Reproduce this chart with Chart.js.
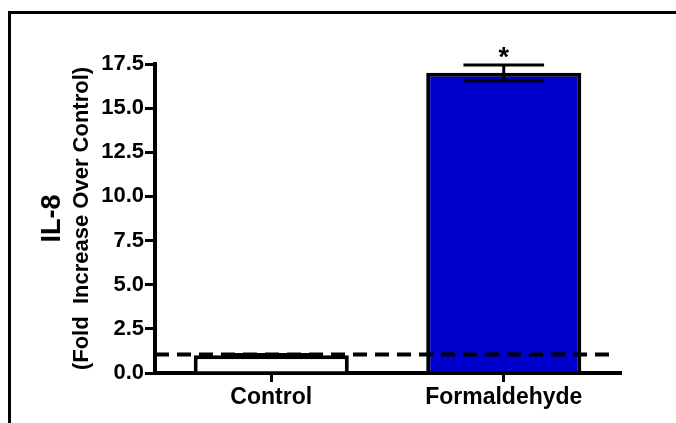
<!DOCTYPE html>
<html>
<head>
<meta charset="utf-8">
<title>IL-8</title>
<script src="https://cdn.jsdelivr.net/npm/chart.js@4/dist/chart.umd.min.js"></script>
<style>
    html, body { margin: 0; padding: 0; background: #fff; overflow: hidden; }
    #wrap { position: relative; width: 676px; height: 423px; }
    #frame {
        position: absolute; left: 8px; top: 11px; width: 720px; height: 460px;
        border-left: 3px solid #000; border-top: 3px solid #000;
    }
    canvas { position: absolute; left: 0; top: 0; }
</style>
</head>
<body>
<div id="wrap">
    <div id="frame"></div>
    <canvas id="il8Chart" width="676" height="423"></canvas>
</div>
<script>
const categories = ['Control', 'Formaldehyde'];
const meanValues = [1.0, 17.0];
const semValues = [0.05, 0.45];
const barColors = ['#ffffff', '#0000cc'];
const significance = ['', '*'];
const controlLevel = 1.05;   // dashed reference line
const yMin = 0;
const yMax = 17.5;
const yStep = 2.5;

const FONT = '"Liberation Sans", Arial, Helvetica, sans-serif';

// dashed control line, error bars and the significance star
const extrasPlugin = {
    id: 'extras',
    afterDatasetsDraw(chart) {
        const ctx = chart.ctx;
        const y = chart.scales.y;
        const area = chart.chartArea;
        const meta = chart.getDatasetMeta(0);
        ctx.save();
        ctx.strokeStyle = '#000';
        ctx.lineWidth = 4;
        ctx.setLineDash([14, 8]);
        const ry = y.getPixelForValue(controlLevel);
        ctx.beginPath();
        ctx.moveTo(area.left, ry);
        ctx.lineTo(area.right - 6, ry);
        ctx.stroke();
        ctx.setLineDash([]);

        meta.data.forEach((bar, i) => {
            const top = y.getPixelForValue(meanValues[i] + semValues[i]);
            const bottom = y.getPixelForValue(meanValues[i] - semValues[i]);
            const half = bar.width * 0.26;
            ctx.lineWidth = 3;
            ctx.beginPath();
            ctx.moveTo(bar.x, top);
            ctx.lineTo(bar.x, bottom);
            ctx.moveTo(bar.x - half, top);
            ctx.lineTo(bar.x + half, top);
            ctx.moveTo(bar.x - half, bottom);
            ctx.lineTo(bar.x + half, bottom);
            ctx.stroke();
            if (significance[i]) {
                ctx.font = 'bold 27px ' + FONT;
                ctx.textAlign = 'center';
                ctx.textBaseline = 'alphabetic';
                ctx.fillStyle = '#000';
                ctx.fillText(significance[i], bar.x, top + 1);
            }
        });
        ctx.restore();
    }
};

const ctx = document.getElementById('il8Chart').getContext('2d');
const il8Chart = new Chart(ctx, {
    type: 'bar',
    data: {
        labels: categories,
        datasets: [{
            data: meanValues,
            backgroundColor: barColors,
            borderColor: '#000',
            borderWidth: 4,
            borderSkipped: 'start',
            categoryPercentage: 1,
            barPercentage: 0.667
        }]
    },
    options: {
        responsive: false,
        animation: false,
        layout: { padding: { left: 0, top: 64, right: 56, bottom: 0 } },
        plugins: {
            legend: { display: false },
            tooltip: { enabled: false },
            // the two rotated axis-title lines, in different sizes
            title: {
                display: true,
                position: 'left',
                fullSize: false,
                text: 'IL-8',
                color: '#000',
                padding: { top: 36, bottom: 0 },
                font: { family: FONT, size: 27, weight: 'bold', lineHeight: 1.2 }
            },
            subtitle: {
                display: true,
                position: 'left',
                fullSize: false,
                text: '(Fold  Increase Over Control)',
                color: '#000',
                padding: { top: 0, bottom: 0 },
                font: { family: FONT, size: 22, weight: 'bold', lineHeight: 1.2 }
            }
        },
        scales: {
            x: {
                offset: true,
                afterFit: (scale) => { scale.height = 50; },
                grid: {
                    display: true,
                    offset: false,
                    drawOnChartArea: false,
                    drawTicks: true,
                    tickLength: 9,
                    lineWidth: 3,
                    color: '#000'
                },
                border: { display: true, width: 4, color: '#000' },
                ticks: {
                    color: '#000',
                    padding: 2,
                    maxRotation: 0,
                    font: { family: FONT, size: 23, weight: 'bold' }
                }
            },
            y: {
                min: yMin,
                max: yMax,
                // title boxes take 68.4 + 26.4 px, so the axis line lands at x = 155
                afterFit: (scale) => { scale.width = 60.2; },
                grid: {
                    display: true,
                    drawOnChartArea: false,
                    drawTicks: true,
                    tickLength: 10,
                    lineWidth: 3,
                    color: '#000'
                },
                border: { display: true, width: 4, color: '#000' },
                ticks: {
                    stepSize: yStep,
                    color: '#000',
                    padding: 1,
                    font: { family: FONT, size: 22, weight: 'bold' },
                    callback: (v) => Number(v).toFixed(1)
                }
            }
        }
    },
    plugins: [extrasPlugin]
});
</script>
</body>
</html>
